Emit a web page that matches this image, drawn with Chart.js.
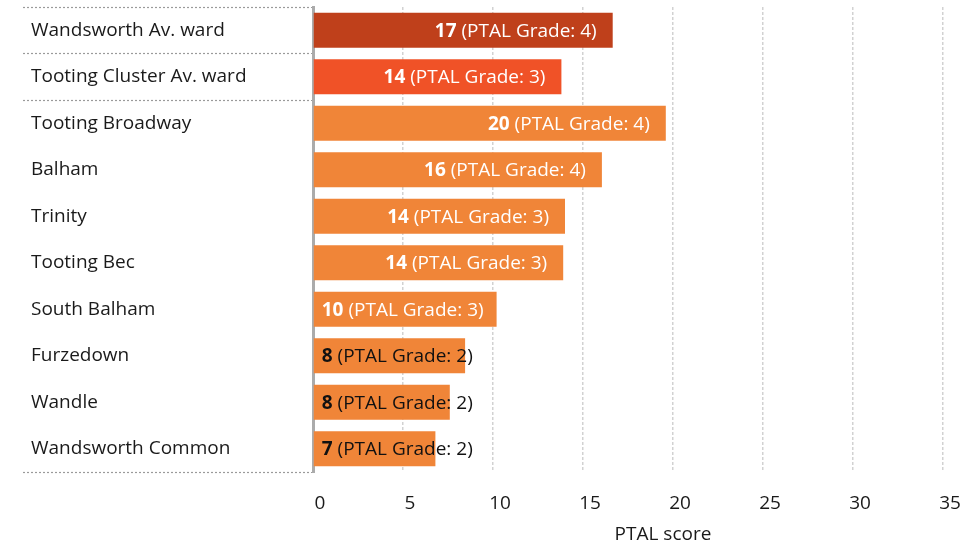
<!DOCTYPE html>
<html>
<head>
<meta charset="utf-8">
<script src="https://cdn.jsdelivr.net/npm/chart.js@4"></script>
<style>
  html, body { margin: 0; padding: 0; background: #fff; }
  #wrap { width: 974px; height: 545px; }
</style>
</head>
<body>
<div id="wrap"><canvas id="ptal-chart"></canvas></div>
<script>

var ward_labels = ['Wandsworth Av. ward', 'Tooting Cluster Av. ward', 'Tooting Broadway', 'Balham',
  'Trinity', 'Tooting Bec', 'South Balham', 'Furzedown', 'Wandle', 'Wandsworth Common'];
var ptal_scores = [16.65, 13.8, 19.6, 16.05, 14.0, 13.9, 10.2, 8.45, 7.6, 6.8];
var ptal_grades = [4, 3, 4, 4, 3, 3, 3, 2, 2, 2];
var bar_colours = ['#BF401B', '#F05227', '#F08538', '#F08538', '#F08538',
  '#F08538', '#F08538', '#F08538', '#F08538', '#F08538'];
var x_ticks = [0, 5, 10, 15, 20, 25, 30, 35];
var x_title = 'PTAL score';

var font_family = '"Open Sans", "Noto Sans", sans-serif';
var font_size = 19;

// score labels inside the bars, bold number then the grade
const bar_labels = {
  id: 'barLabels',
  afterDatasetsDraw(chart) {
    const ctx = chart.ctx;
    const meta = chart.getDatasetMeta(0);
    ctx.save();
    ctx.textBaseline = 'middle';
    ctx.textAlign = 'left';
    meta.data.forEach(function (bar, i) {
      const num = String(Math.round(ptal_scores[i]));
      const rest = ' (PTAL Grade: ' + ptal_grades[i] + ')';
      ctx.font = 'bold ' + font_size + 'px ' + font_family;
      const w1 = ctx.measureText(num).width;
      ctx.font = font_size + 'px ' + font_family;
      const w2 = ctx.measureText(rest).width;
      let x = bar.x - 16 - (w1 + w2);
      if (x < bar.base + 8) x = bar.base + 8;
      ctx.fillStyle = ptal_scores[i] >= 10 ? '#ffffff' : '#111111';
      ctx.font = 'bold ' + font_size + 'px ' + font_family;
      ctx.fillText(num, x, bar.y + 1);
      ctx.font = font_size + 'px ' + font_family;
      ctx.fillText(rest, x + w1, bar.y + 1);
    });
    ctx.restore();
  }
};

// axis title sits a little right of the plot centre in the original
const axis_title = {
  id: 'axisTitle',
  afterDraw(chart) {
    const ctx = chart.ctx;
    const xs = chart.scales.x;
    ctx.save();
    ctx.font = font_size + 'px ' + font_family;
    ctx.fillStyle = '#1a1a1a';
    ctx.textAlign = 'center';
    ctx.textBaseline = 'middle';
    ctx.fillText(x_title, (xs.left + xs.right) / 2 + 35, xs.bottom - 10);
    ctx.restore();
  }
};

const data_ptal = {
  labels: ward_labels,
  datasets: [{
    label: x_title,
    data: ptal_scores,
    backgroundColor: bar_colours,
    borderWidth: 0,
    barPercentage: 0.75,
    categoryPercentage: 1.0
  }]
};

const config_ptal = {
  type: 'bar',
  data: data_ptal,
  plugins: [bar_labels, axis_title],
  options: {
    indexAxis: 'y',
    responsive: true,
    maintainAspectRatio: false,
    animation: false,
    layout: { padding: { top: 7, left: 31, right: 31, bottom: 0 } },
    plugins: {
      legend: { display: false },
      tooltip: { enabled: false }
    },
    scales: {
      x: {
        min: 0,
        max: 35,
        afterBuildTicks: function (scale) {
          scale.ticks = x_ticks.map(function (v) { return { value: v }; });
        },
        afterFit: function (scale) {
          scale.height = 73;
          scale.paddingLeft = 0;
          scale.paddingRight = 0;
        },
        border: { display: false, dash: [3, 2] },
        grid: {
          drawTicks: false,
          color: function (c) { return c.tick && c.tick.value === 0 ? 'rgba(0,0,0,0)' : '#D2D2D2'; },
          lineWidth: 1.5
        },
        ticks: {
          padding: 20,
          labelOffset: 7,
          color: '#1a1a1a',
          font: { family: font_family, size: font_size }
        }
      },
      y: {
        afterFit: function (scale) {
          scale.width = 282;
          scale.paddingTop = 0;
          scale.paddingBottom = 0;
        },
        border: { display: true, color: '#ABABAB', width: 3 },
        grid: {
          offset: true,
          drawOnChartArea: false,
          tickLength: 290,
          tickWidth: 1.2,
          tickBorderDash: [2, 2],
          tickColor: function (c) {
            if (c.index === undefined || c.index <= 2) return '#9a9a9a';
            return 'rgba(0,0,0,0)';
          }
        },
        ticks: {
          crossAlign: 'far',
          color: '#1a1a1a',
          font: { family: font_family, size: font_size }
        }
      }
    }
  }
};

const ptal_chart = new Chart(document.getElementById('ptal-chart'), config_ptal);
</script>
</body>
</html>
